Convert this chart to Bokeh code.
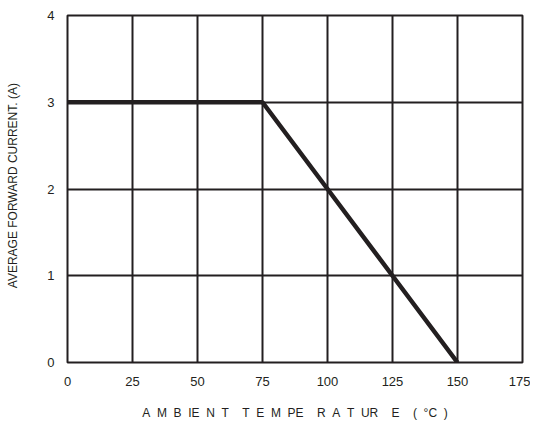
from bokeh.plotting import figure
from bokeh.models import FixedTicker, Range1d, Title
from bokeh.embed import file_html
from bokeh.resources import INLINE

# data
temperature = [0, 75, 100, 125, 150]
current = [3.0, 3.0, 2.0, 1.0, 0.0]
x_ticks = [0, 25, 50, 75, 100, 125, 150, 175]
y_ticks = [0, 1, 2, 3, 4]
NB = "\u00a0"
x_title = (NB * 2).join(["A", "M", "B", "IE", "N", "T"]) + NB * 4 + \
          (NB * 2).join(["T", "E", "M", "PE"]) + NB * 4 + \
          (NB * 2).join(["R", "A", "T", "UR"]) + NB * 4 + "E" + NB * 4 + \
          "(" + NB * 2 + "°C" + NB * 2 + ")"
y_title = "AVERAGE FORWARD CURRENT. (A)"

p = figure(frame_width=455, frame_height=347, output_backend="svg", toolbar_location=None,
           x_range=Range1d(0, 175), y_range=Range1d(0, 4),
           min_border_left=67, min_border_right=8, min_border_top=15, min_border_bottom=56)

p.line(temperature, current, line_color="#231f20", line_width=4.5)

p.outline_line_color = "#231f20"
p.outline_line_width = 2
p.background_fill_color = "white"
p.border_fill_color = "white"

for ax, ticks in ((p.xaxis[0], x_ticks), (p.yaxis[0], y_ticks)):
    ax.ticker = FixedTicker(ticks=ticks)
    ax.axis_line_color = None
    ax.major_tick_line_color = None
    ax.minor_tick_line_color = None
    ax.major_label_text_font = "Liberation Sans"
    ax.major_label_text_font_size = "13px"
    ax.major_label_text_color = "#231f20"

p.xaxis.major_label_standoff = 8
p.yaxis.major_label_standoff = 7

p.yaxis.axis_label = NB * 2 + y_title
p.yaxis.axis_label_standoff = 24
p.yaxis.axis_label_text_font = "Liberation Sans"
p.yaxis.axis_label_text_font_size = "12px"
p.yaxis.axis_label_text_font_style = "normal"
p.yaxis.axis_label_text_color = "#231f20"

p.xgrid.ticker = FixedTicker(ticks=x_ticks)
p.ygrid.ticker = FixedTicker(ticks=y_ticks)
for g in (p.xgrid[0], p.ygrid[0]):
    g.grid_line_color = "#231f20"
    g.grid_line_width = 2
    g.grid_line_alpha = 1

p.add_layout(Title(text=x_title, align="center", offset=-4, standoff=30,
                   text_font="Liberation Sans", text_font_size="12px",
                   text_font_style="normal", text_color="#231f20"), "below")

open("out.html", "w").write(file_html(p, INLINE))
